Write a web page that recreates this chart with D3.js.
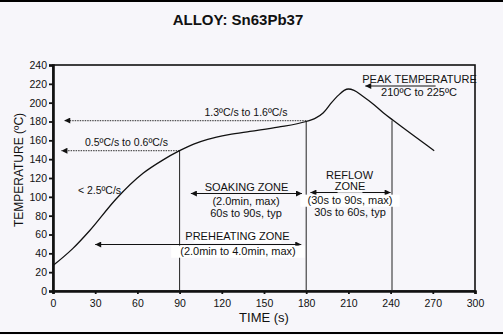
<!DOCTYPE html>
<html>
<head>
<meta charset="utf-8">
<script src="https://cdn.jsdelivr.net/npm/d3@7/dist/d3.min.js"></script>
<style>
html,body{margin:0;padding:0;background:#f7f6fa;}
svg{display:block;font-family:"Liberation Sans",Arial,sans-serif;}
</style>
</head>
<body>
<svg id="c" width="503" height="335"></svg>
<script>
// ---- data ----
const xTicks = [0,30,60,90,120,150,180,210,240,270,300];
const yTicks = [0,20,40,60,80,100,120,140,160,180,200,220,240];
const profileTime = [0,14,26,45,64,78,90,100,110,125,140,160,180,186,192,198,203,207,210,214,220,228,235,242,271];
const profileTemp = [27,45,64,98,125,139,149,156,161,166,169.5,174,180,183,189,200,208,213,214.5,213,207,198,189,181,149];
const zoneLines = [{t:90,v:149},{t:180,v:180},{t:241,v:181}];
const rateLines = [{v:149,from:90,to:6},{v:181,from:180,to:8}];

const svg = d3.select("#c");
const W=503,H=335;
svg.append("rect").attr("width",W).attr("height",H).attr("fill","#f7f6fa");
svg.append("rect").attr("x",0).attr("y",0).attr("width",W).attr("height",2).attr("fill","#000");
svg.append("rect").attr("x",0).attr("y",332).attr("width",W).attr("height",2).attr("fill","#000");

const x = d3.scaleLinear().domain([0,300]).range([53,475]);
const y = d3.scaleLinear().domain([0,240]).range([291,65]);

const defs = svg.append("defs");
function marker(id, dir){
  const m = defs.append("marker").attr("id",id).attr("viewBox","0 0 10 10")
    .attr("refX",dir==="end"?10:0).attr("refY",5).attr("markerWidth",7).attr("markerHeight",6)
    .attr("markerUnits","userSpaceOnUse").attr("orient","auto");
  if(dir==="end") m.append("path").attr("d","M0,0 L10,5 L0,10 Z").attr("fill","#111");
  else m.append("path").attr("d","M10,0 L0,5 L10,10 Z").attr("fill","#111");
}
marker("ae","end"); marker("as","start");

// frame
svg.append("rect").attr("x",x(0)).attr("y",y(240)).attr("width",x(300)-x(0)).attr("height",y(0)-y(240))
  .attr("fill","none").attr("stroke","#111").attr("stroke-width",1.6);

// axes
const yAxis = svg.append("g").attr("transform",`translate(${x(0)},0)`)
  .call(d3.axisLeft(y).tickValues(yTicks).tickSize(4).tickPadding(2));
const xAxis = svg.append("g").attr("transform",`translate(0,${y(0)})`)
  .call(d3.axisBottom(x).tickValues(xTicks).tickSize(3).tickPadding(4));
[yAxis,xAxis].forEach(g=>{
  g.select(".domain").attr("stroke","#111").attr("stroke-width",2.6);
  g.selectAll(".tick line").attr("stroke","#111").attr("stroke-width",1.8);
  g.selectAll(".tick text").attr("fill","#111").style("font-size","10.5px").style("font-family","Liberation Sans, Arial, sans-serif");
});
xAxis.selectAll(".tick text").attr("dy","0.9em");

// titles
svg.append("text").attr("x",238).attr("y",25).attr("text-anchor","middle")
  .style("font-size","15px").style("font-weight","bold").attr("fill","#111").text("ALLOY: Sn63Pb37");
svg.append("text").attr("x",264).attr("y",322).attr("text-anchor","middle")
  .style("font-size","13px").attr("fill","#111").text("TIME (s)");
svg.append("text").attr("transform","translate(23,170) rotate(-90)").attr("text-anchor","middle")
  .style("font-size","12px").attr("fill","#111").text("TEMPERATURE (ºC)");

// vertical zone lines
svg.selectAll(".zl").data(zoneLines).join("line")
  .attr("x1",d=>x(d.t)).attr("x2",d=>x(d.t)).attr("y1",d=>y(d.v)).attr("y2",y(0))
  .attr("stroke","#222").attr("stroke-width",1);

// dotted rate lines
svg.selectAll(".rl").data(rateLines).join("line")
  .attr("x1",d=>x(d.from)).attr("x2",d=>x(d.to)).attr("y1",d=>y(d.v)).attr("y2",d=>y(d.v))
  .attr("stroke","#555").attr("stroke-width",1.2).attr("stroke-dasharray","1.5,1")
  .attr("marker-end","url(#ae)");

// profile curve
const pts = profileTime.map((t,i)=>[t,profileTemp[i]]);
svg.append("path").datum(pts)
  .attr("d",d3.line().x(d=>x(d[0])).y(d=>y(d[1])).curve(d3.curveMonotoneX))
  .attr("fill","none").attr("stroke","#111").attr("stroke-width",1.3);

function txt(xx,yy,s,size,anchor,bg){
  if(bg){
    const w = s.length*size*0.52;
    svg.append("rect").attr("x",anchor==="middle"?xx-w/2-1:xx-1).attr("y",yy-size*0.85)
      .attr("width",w+2).attr("height",size*1.1).attr("fill","#fff");
  }
  return svg.append("text").attr("x",xx).attr("y",yy).attr("text-anchor",anchor||"middle")
    .style("font-size",size+"px").attr("fill","#111").text(s);
}

// rate labels
txt(126.5,146,"0.5ºC/s to 0.6ºC/s",10.5,"middle");
txt(246,116,"1.3ºC/s to 1.6ºC/s",10.5,"middle");
txt(99.5,194,"< 2.5ºC/s",10.5,"middle");

// peak temperature
svg.append("line").attr("x1",x(272)).attr("x2",x(222)).attr("y1",86).attr("y2",86)
  .attr("stroke","#111").attr("stroke-width",1).attr("marker-end","url(#ae)");
txt(419.5,83,"PEAK TEMPERATURE",11,"middle");
txt(419,96,"210ºC to 225ºC",11,"middle");

// zone arrows
function arrow(t1,t2,yy){
  svg.append("line").attr("x1",x(t1)).attr("x2",x(t2)).attr("y1",yy).attr("y2",yy)
    .attr("stroke","#111").attr("stroke-width",1)
    .attr("marker-start","url(#as)").attr("marker-end","url(#ae)");
}
arrow(98,177,193.5);
arrow(30,176.5,244.5);
arrow(183,240,192.5);

// soaking
txt(246.5,191,"SOAKING ZONE",11,"middle");
txt(246,205,"(2.0min, max)",11,"middle");
txt(246,216.5,"60s to 90s, typ",11,"middle");
// preheating
txt(237.5,240,"PREHEATING ZONE",11,"middle",true);
txt(238,255,"(2.0min to 4.0min, max)",11,"middle",true);
// reflow
txt(349.5,178.5,"REFLOW",11,"middle");
txt(350,190,"ZONE",11,"middle",true);
txt(350,204,"(30s to 90s, max)",11,"middle",true);
txt(350,216,"30s to 60s, typ",11,"middle");
</script>
</body>
</html>
